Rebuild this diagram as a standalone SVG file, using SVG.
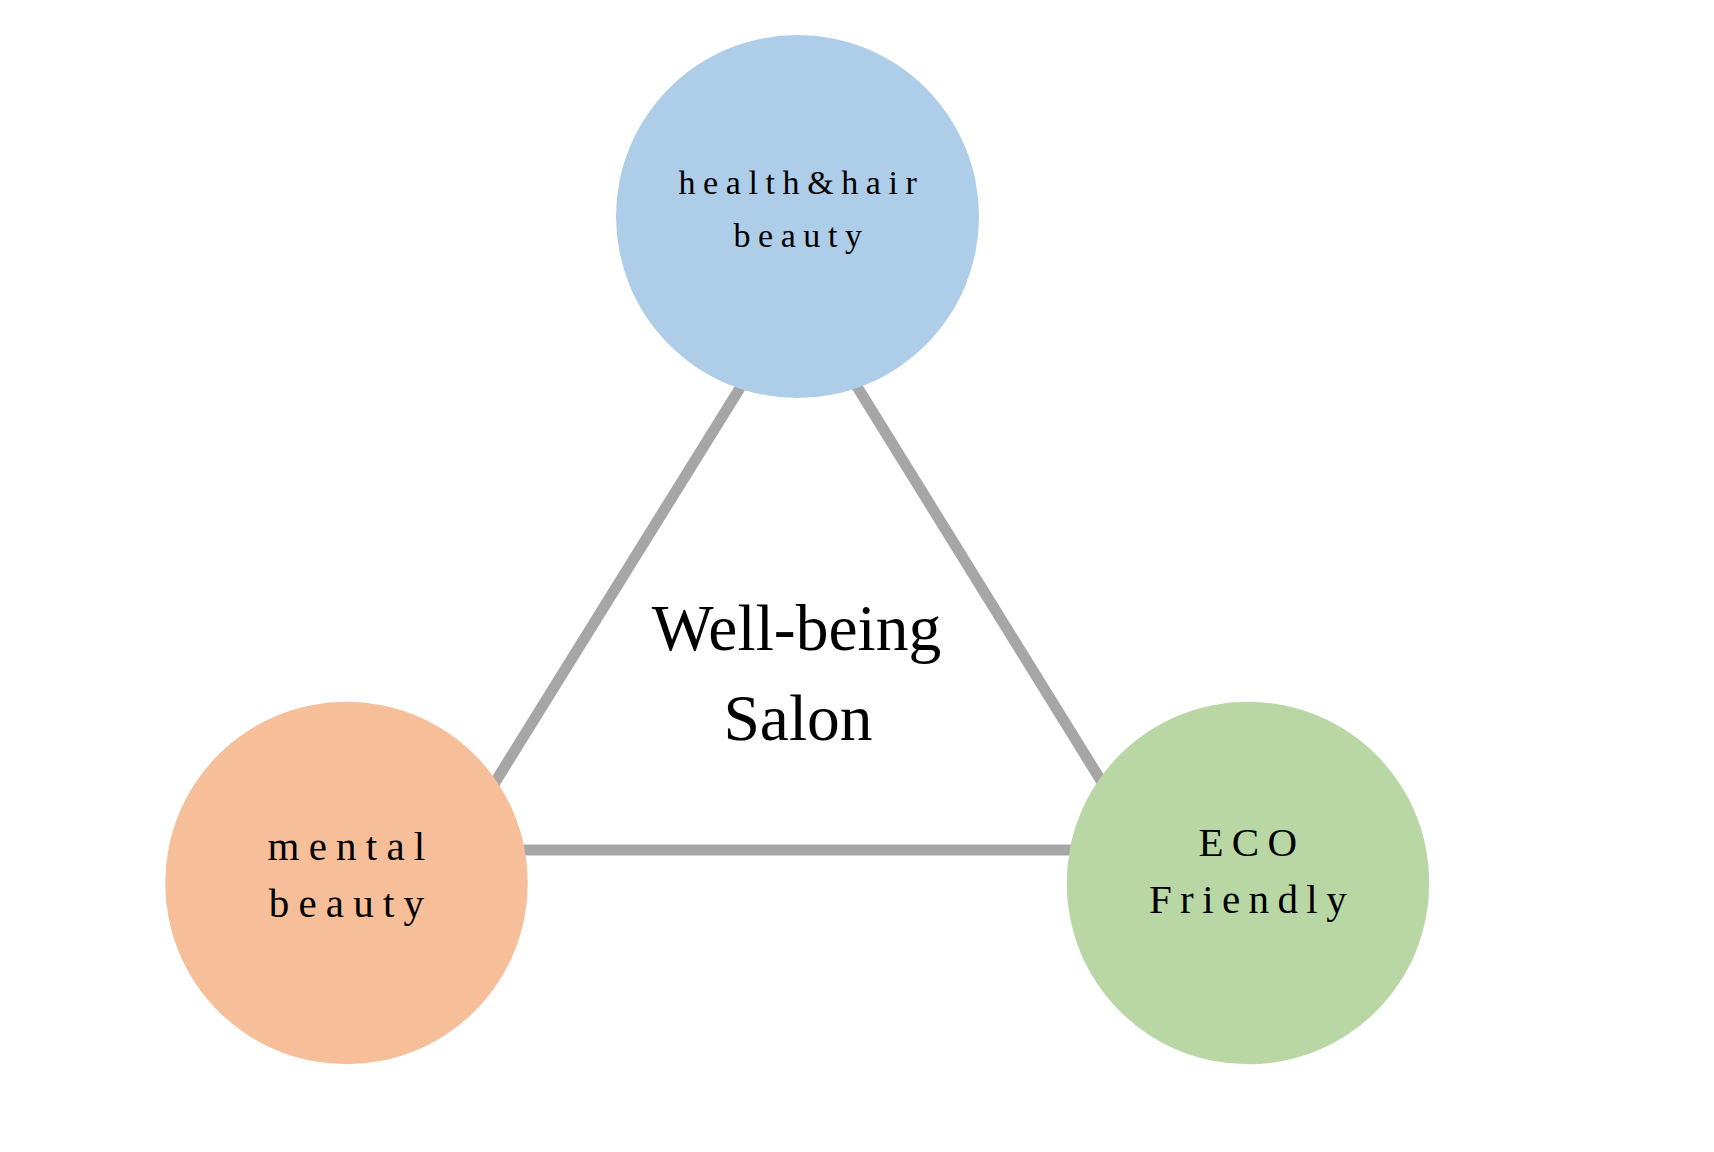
<svg xmlns="http://www.w3.org/2000/svg" width="1714" height="1152" viewBox="0 0 1714 1152">
<style>
.edge{stroke:#A6A6A6;stroke-width:11;fill:none}
.lbl{font-family:"Liberation Serif","Times New Roman",serif;fill:#000;text-anchor:middle}
.top{font-size:34px;letter-spacing:7.6px}
.side{font-size:41px;letter-spacing:9.2px}
.eco{font-size:41px;letter-spacing:8.4px}
.title{font-size:65.5px}
</style>
<rect width="1714" height="1152" fill="#FFFFFF"/>
<g id="connectors">
<line class="edge" x1="799" y1="293" x2="453" y2="850"/>
<line class="edge" x1="799" y1="293" x2="1144" y2="850"/>
<line class="edge" x1="453" y1="850" x2="1144" y2="850"/>
</g>
<g id="center-label">
<text class="lbl title" x="796.5" y="650">Well-being</text>
<text class="lbl title" x="798" y="740">Salon</text>
</g>
<g id="node-health">
<circle cx="797.5" cy="216.5" r="181.5" fill="#AECDE9"/>
<text class="lbl top" x="801.5" y="194">health&amp;hair</text>
<text class="lbl top" x="801.5" y="246.5">beauty</text>
</g>
<g id="node-mental">
<circle cx="346.5" cy="883" r="181.3" fill="#F6BF99"/>
<text class="lbl side" x="351" y="860">mental</text>
<text class="lbl side" x="351" y="917">beauty</text>
</g>
<g id="node-eco">
<circle cx="1248" cy="883" r="181.3" fill="#B9D7A5"/>
<text class="lbl eco" x="1252" y="856">ECO</text>
<text class="lbl eco" x="1252" y="913">Friendly</text>
</g>
</svg>
